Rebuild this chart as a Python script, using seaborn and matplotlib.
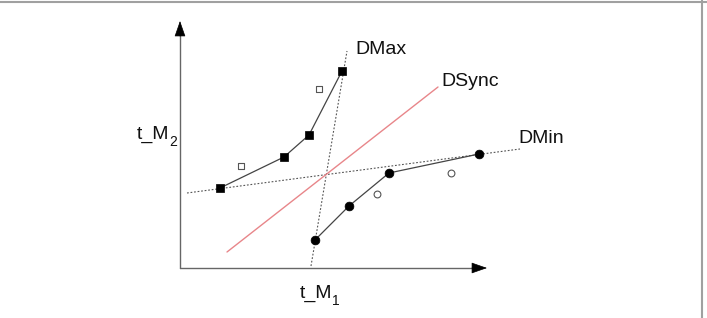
import matplotlib
matplotlib.use("Agg")
import matplotlib.pyplot as plt
from matplotlib.lines import Line2D
import seaborn as sns

# ---- data (units relative to the axis origin) ----
dmax_x = [40, 104, 129, 162]
dmax_y = [80, 111, 133, 197]
dmax_open_x = [61, 139]
dmax_open_y = [102, 179]

dmin_x = [135, 169, 209, 299]
dmin_y = [28, 62, 95, 114]
dmin_open_x = [197, 271]
dmin_open_y = [74, 95]

line_dmax_x = [131, 167]
line_dmax_y = [2, 217]
line_dmin_x = [7, 340]
line_dmin_y = [75, 119]
line_sync_x = [47, 258]
line_sync_y = [16, 181]

labels = ["DMax", "DSync", "DMin"]
label_x = [175, 261.7, 338.3]
label_y = [213.7, 182.3, 124.7]

axis_labels = ["t_M", "t_M"]
axis_subs = ["2", "1"]
axis_label_x = [-43.2, 120.0]
axis_label_y = [128.7, -30.3]

x_axis_end = 307
y_axis_end = 247

sns.set_theme(style="white")
plt.rcParams['font.family'] = ['Liberation Sans', 'DejaVu Sans']

fig = plt.figure(figsize=(7.07, 3.18), dpi=100)
ax = fig.add_axes([0, 0, 1, 1])
ax.set_xlim(-180, 527)
ax.set_ylim(-50, 268)
ax.axis('off')

# figure border (top and right)
fig.add_artist(Line2D([0, 1], [1 - 1.5/318, 1 - 1.5/318], transform=fig.transFigure,
                      color='#a0a0a0', lw=1.5))
fig.add_artist(Line2D([702/707, 702/707], [0, 1], transform=fig.transFigure,
                      color='#a0a0a0', lw=1.5))

# axes with arrows
ax.plot([0, x_axis_end - 12], [0, 0], color='#666666', lw=1.0)
ax.plot([0, 0], [0, y_axis_end - 12], color='#666666', lw=1.0)
ap = dict(arrowstyle='-|>,head_length=0.4,head_width=0.14', mutation_scale=25,
          color='black', lw=0.5, shrinkA=0, shrinkB=0)
ax.annotate('', xy=(x_axis_end, 0), xytext=(x_axis_end - 15, 0), arrowprops=ap)
ax.annotate('', xy=(0, y_axis_end), xytext=(0, y_axis_end - 15), arrowprops=ap)

# reference lines
dot = (0, (1.6, 1.6))
sns.lineplot(x=line_dmax_x, y=line_dmax_y, ax=ax, color='#555555', lw=0.8,
             linestyle=dot, sort=False)
sns.lineplot(x=line_dmin_x, y=line_dmin_y, ax=ax, color='#555555', lw=0.8,
             linestyle=dot, sort=False)
sns.lineplot(x=line_sync_x, y=line_sync_y, ax=ax, color='#e8868a', lw=1.0, sort=False)

# polylines with markers
sns.lineplot(x=dmax_x, y=dmax_y, ax=ax, color='#444444', lw=0.9, sort=False)
sns.scatterplot(x=dmax_x, y=dmax_y, ax=ax, marker='s', s=40, color='black',
                edgecolor='black', linewidth=0.5, zorder=5)
sns.scatterplot(x=dmax_open_x, y=dmax_open_y, ax=ax, marker='s', s=22,
                facecolor='white', edgecolor='#555555', linewidth=0.8, zorder=5)

sns.lineplot(x=dmin_x, y=dmin_y, ax=ax, color='#444444', lw=0.9, sort=False)
sns.scatterplot(x=dmin_x, y=dmin_y, ax=ax, marker='o', s=40, color='black',
                edgecolor='black', linewidth=0.5, zorder=5)
sns.scatterplot(x=dmin_open_x, y=dmin_open_y, ax=ax, marker='o', s=24,
                facecolor='white', edgecolor='#555555', linewidth=0.8, zorder=5)

# labels
for t, lx, ly in zip(labels, label_x, label_y):
    ax.text(lx, ly, t, fontsize=14, color='#111111', ha='left', va='baseline')

for t, sub, lx, ly in zip(axis_labels, axis_subs, axis_label_x, axis_label_y):
    ax.text(lx, ly, t, fontsize=14, color='#111111', ha='left', va='baseline')
    ax.annotate(sub, xy=(lx, ly), xytext=(32, -7), textcoords='offset pixels',
                fontsize=10, color='#111111', ha='left', va='baseline')

fig.savefig('out.png', dpi=100)
